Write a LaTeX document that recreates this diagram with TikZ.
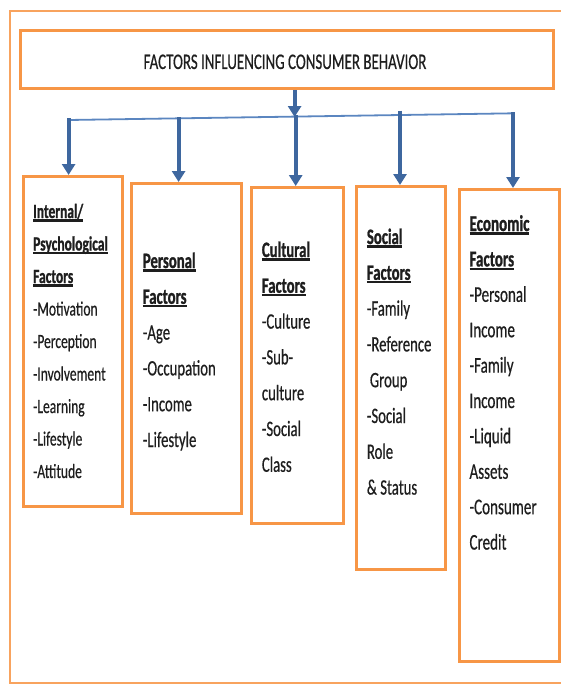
\documentclass[tikz,border=0pt]{standalone}
\usepackage{fontspec}
\setmainfont{Carlito}[FakeStretch=0.67,UprightFeatures={FakeBold=0.5},BoldFeatures={FakeBold=1}]
\usetikzlibrary{arrows.meta}
\definecolor{boxor}{HTML}{F79646}
\definecolor{frameor}{HTML}{F8A35E}
\definecolor{busblue}{HTML}{5B86C0}
\definecolor{arrblue}{HTML}{3E679F}
\definecolor{txt}{HTML}{1E1E1E}
\newsavebox\hdbox
\newcommand\hd[1]{\sbox\hdbox{\bfseries #1}\rlap{\usebox\hdbox}\rule[-3.6pt]{\wd\hdbox}{2.4pt}}
\newcommand\lns[1]{\vtop{\halign{##\hfil\cr#1\crcr}}}
\begin{document}
\begin{tikzpicture}[x=1pt,y=-1pt,
  fbox/.style={draw=boxor,line width=3pt,anchor=north west,inner sep=0pt},
  lbl/.style={anchor=base west,inner sep=0pt,text=txt,font=\fontsize{22}{35.8}\selectfont},
  arr/.style={draw=arrblue,line width=4pt,-{Triangle[width=13pt,length=11pt]}}]
\useasboundingbox (0,0) rectangle (560,685);
\draw[frameor,line width=2pt] (561,11) -- (10,11) -- (10,683) -- (561,683);
\node[fbox,minimum width=533pt,minimum height=58pt] (title) at (18.6,29) {};
\node[anchor=base,inner sep=0pt,text=txt,font=\fontsize{22.3}{26}\selectfont] (titletext) at (285,69) {FACTORS INFLUENCING CONSUMER BEHAVIOR};
\node[fbox,minimum width=99pt,minimum height=330pt] (b1) at (22,175) {};
\node[fbox,minimum width=110pt,minimum height=330pt] (b2) at (130,182) {};
\node[fbox,minimum width=92pt,minimum height=336pt] (b3) at (250,186) {};
\node[fbox,minimum width=89pt,minimum height=383pt] (b4) at (355,185) {};
\node[fbox,minimum width=100pt,minimum height=472pt] (b5) at (458,188) {};
\coordinate (busL) at (68.6,120);
\coordinate (busR) at (514,113.3);
\draw[busblue,line width=1.8pt] (busL) -- (busR);
\coordinate (jc) at (294.6,117);
\coordinate (j1) at (68.6,118);
\coordinate (j2) at (178.6,117);
\coordinate (j3) at (295.7,115);
\coordinate (j4) at (400,110.5);
\coordinate (j5) at (513,112);
\draw[arr] (title.south -| jc) -- (jc);
\draw[arr] (j1) -- (j1 |- b1.north);
\draw[arr] (j2) -- (j2 |- b2.north);
\draw[arr] (j3) -- (j3 |- b3.north);
\draw[arr] (j4) -- (j4 |- b4.north);
\draw[arr] (j5) -- (j5 |- b5.north);
\node[lbl,font=\fontsize{20.2}{32.5}\selectfont] (t1) at (33,218) {\lns{\hd{Internal/}\cr\hd{Psychological}\cr\hd{Factors}\cr -Motivation\cr -Perception\cr -Involvement\cr -Learning\cr -Lifestyle\cr -Attitude}};
\node[lbl] (t2) at (142.7,268) {\lns{\hd{Personal}\cr\hd{Factors}\cr -Age\cr -Occupation\cr -Income\cr -Lifestyle}};
\node[lbl] (t3) at (261.7,257) {\lns{\hd{Cultural}\cr\hd{Factors}\cr -Culture\cr -Sub-\cr culture\cr -Social\cr Class}};
\node[lbl] (t4) at (366.7,244) {\lns{\hd{Social}\cr\hd{Factors}\cr -Family\cr -Reference\cr \hspace{3pt}Group\cr -Social\cr Role\cr \& Status}};
\node[lbl,font=\fontsize{22.5}{35.4}\selectfont] (t5) at (469.3,231) {\lns{\hd{Economic}\cr\hd{Factors}\cr -Personal\cr Income\cr -Family\cr Income\cr -Liquid\cr Assets\cr -Consumer\cr Credit}};
\end{tikzpicture}
\end{document}
